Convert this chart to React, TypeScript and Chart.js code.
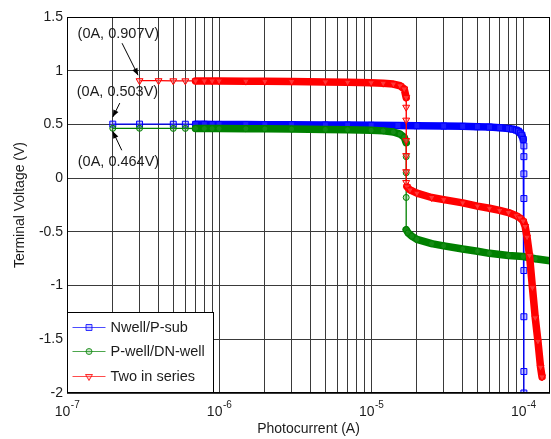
import { useEffect, useRef } from 'react';
import { Chart, registerables } from 'chart.js';

Chart.register(...registerables);

// ---- data ----
const nwellCurrent = [2e-7, 3e-7, 5e-7, 6e-7, 7e-7, 8e-7, 9e-7, 1e-6, 1.5e-6, 2e-6, 3e-6, 5e-6, 7e-6, 1e-5, 1.5e-5, 2e-5, 3e-5, 4e-5, 5e-5, 6e-5, 7e-5, 8e-5, 8.5e-5, 9e-5, 9.3e-5, 9.6e-5, 9.8e-5, 1.0e-4, 1.01e-4, 1.01e-4, 1.01e-4, 1.01e-4, 1.01e-4, 1.01e-4, 1.01e-4, 1.01e-4];
const nwellVoltage = [0.503, 0.503, 0.502, 0.502, 0.501, 0.501, 0.5, 0.5, 0.499, 0.498, 0.497, 0.495, 0.494, 0.492, 0.49, 0.488, 0.485, 0.482, 0.479, 0.475, 0.47, 0.462, 0.456, 0.447, 0.437, 0.42, 0.4, 0.36, 0.3, 0.2, 0.04, -0.19, -0.86, -1.29, -1.8, -2.0];

const pwellCurrent = [2e-7, 3e-7, 5e-7, 6e-7, 7e-7, 8e-7, 9e-7, 1e-6, 1.5e-6, 2e-6, 3e-6, 5e-6, 7e-6, 1e-5, 1.2e-5, 1.4e-5, 1.55e-5, 1.65e-5, 1.7e-5, 1.7e-5, 1.7e-5, 1.7e-5, 1.7e-5, 1.75e-5, 1.85e-5, 2e-5, 2.5e-5, 3e-5, 4e-5, 5e-5, 6e-5, 8e-5, 1e-4, 1.2e-4, 1.5e-4];
const pwellVoltage = [0.464, 0.464, 0.463, 0.463, 0.462, 0.462, 0.461, 0.461, 0.46, 0.459, 0.457, 0.453, 0.45, 0.445, 0.44, 0.43, 0.41, 0.38, 0.33, 0.2, 0.05, -0.18, -0.48, -0.51, -0.54, -0.57, -0.61, -0.63, -0.66, -0.68, -0.7, -0.72, -0.73, -0.75, -0.77];

const seriesCurrent = [3e-7, 4e-7, 5e-7, 6e-7, 7e-7, 8e-7, 9e-7, 1e-6, 1.5e-6, 2e-6, 3e-6, 5e-6, 7e-6, 1e-5, 1.2e-5, 1.4e-5, 1.55e-5, 1.65e-5, 1.7e-5, 1.7e-5, 1.7e-5, 1.7e-5, 1.7e-5, 1.7e-5, 1.7e-5, 1.72e-5, 1.8e-5, 2e-5, 2.5e-5, 3e-5, 4e-5, 5e-5, 6e-5, 7e-5, 8e-5, 9e-5, 9.5e-5, 1e-4, 1.03e-4, 1.06e-4, 1.1e-4, 1.15e-4, 1.2e-4, 1.25e-4, 1.3e-4, 1.33e-4];
const seriesVoltage = [0.907, 0.907, 0.906, 0.906, 0.905, 0.905, 0.905, 0.904, 0.903, 0.901, 0.899, 0.896, 0.893, 0.888, 0.884, 0.876, 0.86, 0.83, 0.75, 0.66, 0.54, 0.35, 0.21, 0.06, -0.04, -0.08, -0.11, -0.14, -0.18, -0.2, -0.23, -0.26, -0.28, -0.3, -0.32, -0.35, -0.37, -0.4, -0.45, -0.55, -0.72, -1.02, -1.3, -1.52, -1.76, -1.85];

const seriesNames = ['Nwell/P-sub', 'P-well/DN-well', 'Two in series'];
const yTickValues = [1.5, 1, 0.5, 0, -0.5, -1, -1.5, -2];
const yTickLabels = ['1.5', '1', '0.5', '0', '-0.5', '-1', '-1.5', '-2'];
const xDecadeExponents = [-7, -6, -5, -4];
const xAxisTitle = 'Photocurrent (A)';
const yAxisTitle = 'Terminal Voltage (V)';
const pointLabels = [
  { text: '(0A, 0.907V)', x: 3e-7, y: 0.907 },
  { text: '(0A, 0.503V)', x: 2e-7, y: 0.503 },
  { text: '(0A, 0.464V)', x: 2e-7, y: 0.464 },
];

// ---- styles ----
const FONT = '"Liberation Sans", Arial, Helvetica, sans-serif';
const TEXT = '#1c1c1c';
const styles = [
  { color: '#0000ff', fill: 'rgba(80,80,255,0.35)', pointStyle: 'rect', radius: 4.2, rotation: 0 },
  { color: '#008000', fill: 'rgba(60,160,60,0.35)', pointStyle: 'circle', radius: 3, rotation: 0 },
  { color: '#ff0000', fill: 'rgba(255,120,120,0.45)', pointStyle: 'triangle', radius: 4, rotation: 180 },
];
const labelLayout = [
  { tx: -62, ty: -47, ax: -17.5, ay: -37.5, bx: -1.5, by: -5.5 },
  { tx: -36, ty: -32, ax: 7, ay: -21, bx: 0, by: -7 },
  { tx: -35, ty: 34, ax: 9, ay: 22, bx: 0, by: 3 },
];

function text(ctx: CanvasRenderingContext2D, s: string, x: number, y: number, size: number, align: CanvasTextAlign, base: CanvasTextBaseline = 'middle') {
  ctx.font = `${size}px ${FONT}`;
  ctx.textAlign = align;
  ctx.textBaseline = base;
  ctx.fillStyle = TEXT;
  ctx.fillText(s, x, y);
}

function marker(ctx: CanvasRenderingContext2D, i: number, x: number, y: number) {
  const st = styles[i];
  ctx.save();
  ctx.strokeStyle = st.color;
  ctx.fillStyle = st.fill;
  ctx.lineWidth = 1;
  ctx.beginPath();
  if (st.pointStyle === 'rect') {
    const h = st.radius * Math.SQRT1_2;
    ctx.rect(x - h, y - h, 2 * h, 2 * h);
  } else if (st.pointStyle === 'circle') {
    ctx.arc(x, y, st.radius, 0, Math.PI * 2);
  } else {
    const r = st.radius;
    ctx.moveTo(x, y + r);
    ctx.lineTo(x - r * 0.866, y - r * 0.5);
    ctx.lineTo(x + r * 0.866, y - r * 0.5);
    ctx.closePath();
  }
  ctx.fill();
  ctx.stroke();
  ctx.restore();
}

const overlayPlugin = {
  id: 'overlay',
  afterDatasetsDraw(chart: any) {
    const { ctx, chartArea: a, scales } = chart;
    const xs = scales.x;
    const ys = scales.y;
    ctx.save();

    // plot frame
    ctx.strokeStyle = '#000';
    ctx.lineWidth = 1;
    ctx.strokeRect(a.left + 0.5, a.top + 0.5, a.right - a.left - 1, a.bottom - a.top - 1);

    // y tick labels
    yTickValues.forEach((v, i) => {
      text(ctx, yTickLabels[i], a.left - 4, ys.getPixelForValue(v), 14, 'right');
    });

    // x tick labels (10^n)
    xDecadeExponents.forEach((e) => {
      const px = xs.getPixelForValue(Math.pow(10, e));
      ctx.font = `14px ${FONT}`;
      const wb = ctx.measureText('10').width;
      ctx.font = `10px ${FONT}`;
      const we = ctx.measureText(String(e)).width;
      const start = px - (wb + we) / 2;
      text(ctx, '10', start, 416, 14, 'left', 'alphabetic');
      text(ctx, String(e), start + wb + 0.5, 408, 10, 'left', 'alphabetic');
    });

    // axis titles
    text(ctx, xAxisTitle, (a.left + a.right) / 2, 429, 14, 'center');
    ctx.save();
    ctx.translate(20, (a.top + a.bottom) / 2);
    ctx.rotate(-Math.PI / 2);
    text(ctx, yAxisTitle, 0, 0, 14, 'center');
    ctx.restore();

    // point labels with arrows
    pointLabels.forEach((p, i) => {
      const L = labelLayout[i];
      const px = xs.getPixelForValue(p.x);
      const py = ys.getPixelForValue(p.y);
      text(ctx, p.text, px + L.tx, py + L.ty, 14.5, 'left');
      const x0 = px + L.ax, y0 = py + L.ay, x1 = px + L.bx, y1 = py + L.by;
      ctx.strokeStyle = '#000';
      ctx.fillStyle = '#000';
      ctx.lineWidth = 1;
      ctx.beginPath();
      ctx.moveTo(x0, y0);
      ctx.lineTo(x1, y1);
      ctx.stroke();
      const ang = Math.atan2(y1 - y0, x1 - x0);
      const hl = 7, hw = 2.8;
      ctx.beginPath();
      ctx.moveTo(x1, y1);
      ctx.lineTo(x1 - hl * Math.cos(ang) + hw * Math.sin(ang), y1 - hl * Math.sin(ang) - hw * Math.cos(ang));
      ctx.lineTo(x1 - hl * Math.cos(ang) - hw * Math.sin(ang), y1 - hl * Math.sin(ang) + hw * Math.cos(ang));
      ctx.closePath();
      ctx.fill();
    });

    // legend box (bottom-left inside plot)
    const lw = 146, lh = 80;
    const lx = a.left + 0.5, ly = a.bottom - lh - 0.5;
    ctx.fillStyle = '#fff';
    ctx.fillRect(lx, ly, lw, lh);
    ctx.strokeStyle = '#000';
    ctx.lineWidth = 1;
    ctx.strokeRect(lx, ly, lw, lh);
    const rows = [15, 39, 64];
    seriesNames.forEach((name, i) => {
      const ry = ly + rows[i];
      ctx.strokeStyle = styles[i].color;
      ctx.globalAlpha = 0.7;
      ctx.lineWidth = 1;
      ctx.beginPath();
      ctx.moveTo(lx + 5, ry);
      ctx.lineTo(lx + 38, ry);
      ctx.stroke();
      ctx.globalAlpha = 0.8;
      marker(ctx, i, lx + 21.5, ry);
      ctx.globalAlpha = 1;
      text(ctx, name, lx + 43, ry, 14.5, 'left');
    });

    ctx.restore();
  },
};

function buildData(xs: number[], ys: number[]) {
  return xs.map((x, i) => ({ x, y: ys[i] }));
}

export default function App() {
  const canvasRef = useRef<HTMLCanvasElement | null>(null);

  useEffect(() => {
    document.body.style.margin = '0';
    const canvas = canvasRef.current;
    if (!canvas) return;

    const series = [
      buildData(nwellCurrent, nwellVoltage),
      buildData(pwellCurrent, pwellVoltage),
      buildData(seriesCurrent, seriesVoltage),
    ];

    const thick = (c: any) => {
      const dx = Math.abs(c.p1.x - c.p0.x);
      return c.p0.parsed.x >= 6.9e-7 && dx > 1 ? 7.5 : 1.3;
    };

    const datasets = series.map((data, i) => ({
      label: seriesNames[i],
      data,
      borderColor: styles[i].color,
      backgroundColor: styles[i].color,
      borderWidth: 1.3,
      borderCapStyle: 'round',
      borderJoinStyle: 'round',
      pointStyle: styles[i].pointStyle,
      pointRadius: styles[i].radius,
      pointRotation: styles[i].rotation,
      pointBorderWidth: 1,
      pointBorderColor: styles[i].color,
      pointBackgroundColor: styles[i].fill,
      tension: 0,
      order: 2 - i,
      segment: { borderWidth: thick },
    }));

    const chart = new Chart(canvas, {
      type: 'line',
      data: { datasets: datasets as any },
      options: {
        animation: false,
        responsive: false,
        devicePixelRatio: 1,
        events: [],
        layout: { autoPadding: false, padding: { left: 0, right: 1, top: 17, bottom: 0 } },
        plugins: {
          legend: { display: false },
          tooltip: { enabled: false },
        },
        scales: {
          x: {
            type: 'logarithmic',
            min: 1e-7,
            max: 1.5e-4,
            afterBuildTicks: (scale: any) => {
              const t: { value: number }[] = [];
              for (let e = -7; e <= -4; e++) {
                for (let m = 1; m <= 9; m++) {
                  const v = m * Math.pow(10, e);
                  if (v <= 1.5e-4 * 1.0001) t.push({ value: v });
                }
              }
              scale.ticks = t;
            },
            afterFit: (scale: any) => { scale.height = 46; },
            ticks: { display: false },
            grid: { color: '#3a3a3a', lineWidth: 1, drawTicks: false },
            border: { display: false },
          },
          y: {
            type: 'linear',
            min: -2,
            max: 1.5,
            ticks: { display: false, stepSize: 0.5 },
            afterFit: (scale: any) => { scale.width = 67; },
            grid: { color: '#3a3a3a', lineWidth: 1, drawTicks: false },
            border: { display: false },
          },
        },
      },
      plugins: [overlayPlugin],
    });

    return () => chart.destroy();
  }, []);

  return (
    <div style={{ width: 551, height: 439, background: '#fff' }}>
      <canvas ref={canvasRef} width={551} height={439} style={{ display: 'block' }} />
    </div>
  );
}
